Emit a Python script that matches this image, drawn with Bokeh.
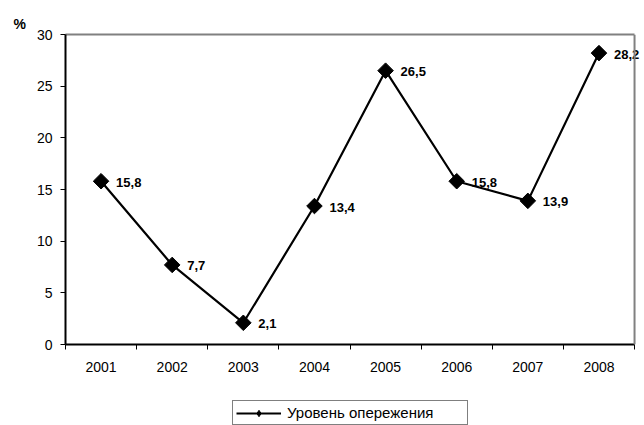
from bokeh.plotting import figure
from bokeh.layouts import column
from bokeh.models import ColumnDataSource, FixedTicker, Legend, LegendItem, Title, Range1d, LinearAxis, Span
from bokeh.core.properties import value
from bokeh.embed import file_html
from bokeh.resources import INLINE

years = ["2001", "2002", "2003", "2004", "2005", "2006", "2007", "2008"]
values = [15.8, 7.7, 2.1, 13.4, 26.5, 15.8, 13.9, 28.2]
y_ticks = [0, 5, 10, 15, 20, 25, 30]
series_name = "Уровень опережения"
unit = "%"

xs = list(range(1, len(years) + 1))
labels = [f"{v:.1f}".replace(".", ",") for v in values]
src = ColumnDataSource(dict(x=xs, y=values, lab=labels))

FONT = "Liberation Sans"
x_lo, x_hi = 0.5, len(years) + 0.5

# frame runs to the right edge so the last data label is not clipped;
# the visible plot box ends at x_hi (grey border drawn there)
p = figure(width=644, height=400, output_backend="svg", toolbar_location=None,
           x_range=Range1d(x_lo, x_hi + 0.14), y_range=Range1d(0, 30),
           min_border_left=65, min_border_right=0, min_border_top=34, min_border_bottom=56)
p.background_fill_color = "white"
p.border_fill_color = "white"
p.outline_line_color = None
p.xgrid.visible = False
p.ygrid.visible = False

line_style = dict(line_color="black", line_width=2.2)
marker_style = dict(marker="square", size=11, angle=0.785398, fill_color="black", line_color="black")

p.add_layout(Span(location=x_hi, dimension="height", line_color="#808080", line_width=2))

p.line("x", "y", source=src, **line_style)
p.scatter("x", "y", source=src, **marker_style)
p.text("x", "y", text="lab", source=src, x_offset=15, y_offset=1,
       text_font=value(FONT), text_font_style="bold", text_font_size="13px",
       text_baseline="middle", text_align="left", text_color="black")

# x axis
p.xaxis.bounds = (x_lo, x_hi)
p.xaxis.ticker = FixedTicker(ticks=xs, minor_ticks=[x - 0.5 for x in xs] + [len(xs) + 0.5])
p.xaxis.major_label_overrides = {x: y for x, y in zip(xs, years)}
p.xaxis.major_tick_out = 0
p.xaxis.major_tick_in = 0
p.xaxis.minor_tick_out = 5
p.xaxis.minor_tick_in = 0
p.xaxis.minor_tick_line_color = "black"
p.xaxis.axis_line_color = "black"
p.xaxis.axis_line_width = 2
p.xaxis.major_label_standoff = 12
p.xaxis.major_label_text_font = FONT
p.xaxis.major_label_text_font_size = "14px"
p.xaxis.major_label_text_color = "black"

# y axis
p.yaxis.ticker = FixedTicker(ticks=y_ticks)
p.yaxis.minor_tick_line_color = None
p.yaxis.major_tick_out = 5
p.yaxis.major_tick_in = 0
p.yaxis.major_tick_line_color = "black"
p.yaxis.axis_line_color = "black"
p.yaxis.axis_line_width = 2
p.yaxis.major_label_standoff = 8
p.yaxis.major_label_text_font = FONT
p.yaxis.major_label_text_font_size = "14px"
p.yaxis.major_label_text_color = "black"

# grey frame border at top
top_ax = LinearAxis(ticker=FixedTicker(ticks=[]), axis_line_color="#808080", axis_line_width=2,
                    major_label_text_font_size="0px", major_tick_line_color=None,
                    minor_tick_line_color=None, bounds=(x_lo, x_hi))
p.add_layout(top_ax, "above")

p.add_layout(Title(text=unit, text_font=FONT, text_font_style="bold", text_font_size="14px",
                   text_color="black", align="left", offset=-52, standoff=6), "above")

# legend strip below the chart (its sample renderers lie outside its view)
lg = figure(width=644, height=25, output_backend="svg", toolbar_location=None,
            x_range=Range1d(-20, -10), y_range=Range1d(-20, -10),
            x_axis_location=None, y_axis_location=None,
            min_border_left=0, min_border_right=0, min_border_top=0, min_border_bottom=0)
lg.grid.visible = False
lg.outline_line_color = None
lg.background_fill_color = "white"
lg.border_fill_color = "white"
r_line = lg.line("x", "y", source=src, **line_style)
r_mark = lg.scatter("x", "y", source=src, marker="diamond", size=11,
                    fill_color="black", line_color="black")

legend = Legend(items=[LegendItem(label=series_name, renderers=[r_line, r_mark])],
                location=(167, 0), orientation="horizontal")
legend.border_line_color = "black"
legend.border_line_width = 1
legend.background_fill_color = "white"
legend.label_text_font = FONT
legend.label_text_font_size = "15px"
legend.label_text_color = "black"
legend.glyph_width = 45
legend.glyph_height = 16
legend.label_standoff = 6
legend.label_width = 177
legend.padding = 3
legend.margin = 0
legend.spacing = 0
lg.add_layout(legend)

layout = column(p, lg, spacing=0)
open("out.html", "w").write(file_html(layout, INLINE))
